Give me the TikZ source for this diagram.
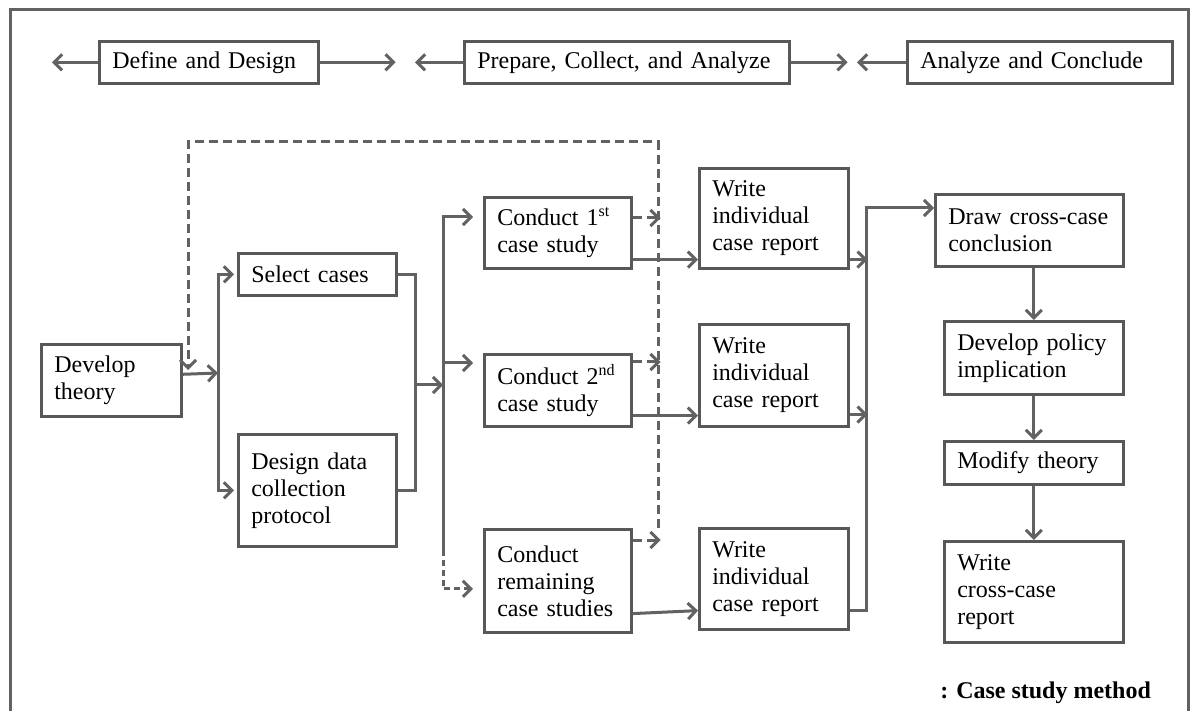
\documentclass[tikz,border=0pt]{standalone}
\usepackage{fontspec}
\setmainfont{Liberation Serif}
\usetikzlibrary{arrows.meta}
\definecolor{linegray}{RGB}{98,98,98}
\definecolor{boxgray}{RGB}{88,88,88}

\begin{document}
\begin{tikzpicture}
[x=0.5pt,y=-0.5pt,%
  stage/.style={draw=boxgray,line width=1.3pt,fill=white,align=left,anchor=north west,
    inner xsep=6.5pt,inner ysep=2pt,font=\fontsize{12}{13.5}\selectfont},
  flow/.style={draw=linegray,line width=1.5pt,-{Straight Barb[length=4pt,width=8pt]}},
  link/.style={draw=linegray,line width=1.5pt},
  feedback/.style={flow,dash pattern=on 4.5pt off 2.5pt}]
\useasboundingbox (0,0) rectangle (1190,711);
%% outer frame
\draw[link] (10,711) |- (1188,10) -- (1188,711);
%% boxes: name / left / top / width / height / text
\foreach \name/\x/\y/\w/\h/\txt in {
  define/98/40/219/42/{Define and Design},
  prepare/463/40/325/42/{Prepare, Collect, and Analyze},
  conclude/906/40/265/42/{Analyze and Conclude},
  develop/40/343/140/72/{Develop\\theory},
  select/237/252/158/42/{Select cases},
  design/237/433/158/112/{Design data\\collection\\protocol},
  conducta/483/196/147/71/{Conduct 1\textsuperscript{st}\\case study},
  conductb/483/353/147/72/{Conduct 2\textsuperscript{nd}\\case study},
  conductc/483/528/147/103/{Conduct\\remaining\\case studies},
  reporta/698/167/149/100/{Write\\individual\\case report},
  reportb/698/323/149/102/{Write\\individual\\case report},
  reportc/698/527/149/101/{Write\\individual\\case report},
  crossdraw/934/193/188/72/{Draw cross-case\\conclusion},
  policy/943/320/179/73/{Develop policy\\implication},
  modify/943/440/179/43/{Modify theory},
  crossreport/943/540/179/101/{Write\\cross-case\\report}}
{
  \pgfmathsetmacro\tw{\w/2-13}
  \pgfmathsetmacro\th{\h/2}
  \node (\name) at (\x,\y) [stage,text width=\tw pt,minimum height=\th pt] {\txt};
}
\node (method) at (1158,693) [anchor=east,font=\bfseries\fontsize{12}{14}\selectfont] {: Case study method};
%% bus lines and the feedback loop
\coordinate (bus1) at (218,373);
\coordinate (bus2) at (415,385);
\coordinate (bus3) at (443,385);
\coordinate (bus3low) at (443,550);
\coordinate (bus4) at (866,208);
\coordinate (loopR) at (658,528);
\coordinate (loopL) at (188,370);
\coordinate (looptop) at (0,142);
%% phase arrows
\foreach \from/\len in {define.west/-23, define.east/38, prepare.west/-24,
  prepare.east/28.5, conclude.west/-24.5}
  \draw[flow] (\from) -- ++(\len pt,0);
%% feedback
\draw[feedback] (loopR) |- (loopL |- looptop) -- (loopL);
%% define and design
\draw[flow] ([yshift=3pt]develop.east) -- (bus1);
\draw[flow,shorten >=1.5pt] (bus1) |- (select.west);
\draw[flow,shorten >=1.5pt] (bus1) |- (design.west);
\draw[link] (select.east) -| (bus2) |- (design.east);
\draw[flow] (bus2) -- (bus3);
%% case studies
\draw[flow,shorten >=5pt] (bus3) |- ([yshift=-10.5pt]conducta.north west);
\draw[flow,shorten >=5pt] (bus3) |- ([yshift=-5pt]conductb.north west);
\draw[link] (bus3) -- (bus3low);
\draw[flow,shorten >=5pt,dash pattern=on 3pt off 2pt] (bus3low) |- ([yshift=-4pt]conductc.west);
\foreach \n/\s in {conducta/-11, conductb/-4.5, conductc/-6}
  \draw[feedback] ([yshift=\s pt]\n.north east) -- ++(14pt,0);
\foreach \a/\b/\s in {conducta/reporta/5, conductb/reportb/6, conductc/reportc/10}
  \draw[flow] ([yshift=\s pt]\a.south east) -- ([yshift=\s pt]\b.south west);
%% reports into the cross-case stage
\draw[flow] ([yshift=5pt]reporta.south east) -- ++(9pt,0);
\draw[flow] ([yshift=6.5pt]reportb.south east) -- ++(9pt,0);
\draw[flow] ([yshift=10pt]reportc.south east) -| (bus4) -- ([yshift=-7.5pt]crossdraw.north west);
%% analyze and conclude
\draw[flow] (policy.north |- crossdraw.south) -- (policy.north);
\draw[flow] (policy) -- (modify);
\draw[flow] (modify) -- (crossreport);
\end{tikzpicture}
\end{document}
